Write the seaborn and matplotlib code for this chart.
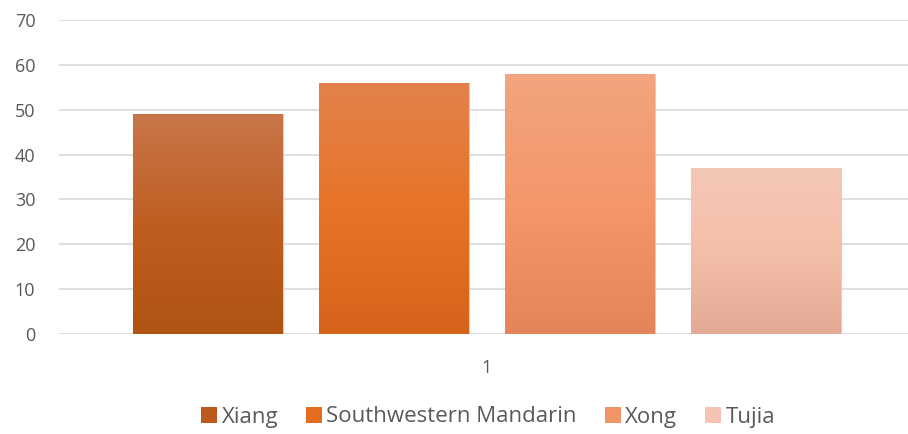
import numpy as np
import pandas as pd
import matplotlib
matplotlib.use("Agg")
import matplotlib.pyplot as plt
import seaborn as sns
from matplotlib.colors import LinearSegmentedColormap
from matplotlib.patches import Patch

# data
languages = ["Xiang", "Southwestern Mandarin", "Xong", "Tujia"]
values = [49, 56, 58, 37]
category = ["1", "1", "1", "1"]

# gradient colours per bar: top, middle, bottom
grad_colors = {
    "Xiang": ["#C87649", "#BF5E22", "#B05313"],
    "Southwestern Mandarin": ["#E3824D", "#E77426", "#D6631A"],
    "Xong": ["#F1A57F", "#F4976A", "#E5845A"],
    "Tujia": ["#F5C8B6", "#F4BFAA", "#E3AA95"],
}
legend_colors = ["#BA5A1B", "#E36C1E", "#F19569", "#F5C3B0"]

df = pd.DataFrame({"cat": category, "lang": languages, "val": values})

sns.set_style("white")
plt.rcParams['font.family'] = ['Open Sans', 'DejaVu Sans']

fig = plt.figure(figsize=(9.08, 4.34), dpi=100)
ax = fig.add_axes([59/908, 100/434, 856/908, 314/434])

sns.barplot(data=df, x="cat", y="val", hue="lang", hue_order=languages,
            width=0.869, gap=0.194, ax=ax, legend=False, palette=legend_colors)

ax.grid(axis="y", color="#D9D9D9", linewidth=1.2)
ax.set_axisbelow(True)
for s in ax.spines.values():
    s.set_visible(False)

# replace flat fill with vertical gradient
for patch, lang in zip(ax.patches, languages):
    x0, y0 = patch.get_x(), patch.get_y()
    w, h = patch.get_width(), patch.get_height()
    cmap = LinearSegmentedColormap.from_list(lang, grad_colors[lang][::-1])
    grad = np.linspace(0, 1, 256).reshape(-1, 1)
    patch.set_facecolor("none")
    patch.set_edgecolor("#C8C8C8")
    patch.set_linewidth(0.6)
    im = ax.imshow(grad, cmap=cmap, extent=[x0, x0 + w, y0, y0 + h],
                   origin="lower", aspect="auto", zorder=2)
    im.set_clip_path(patch)

ax.set_xlim(-0.5, 0.5)
ax.set_ylim(0, 70)
ax.set_yticks(range(0, 71, 10))
ax.set_xlabel("")
ax.set_ylabel("")
ax.tick_params(axis="both", length=0, labelsize=13, labelcolor="#595959")
ax.tick_params(axis="y", pad=17)
ax.tick_params(axis="x", pad=18)

handles = [Patch(facecolor=c, edgecolor="none") for c in legend_colors]
fig.legend(handles, languages, loc="center", bbox_to_anchor=(488/908, 17/434),
           ncol=4, frameon=False, fontsize=16, labelcolor="#595959",
           handlelength=0.72, handleheight=0.72, handletextpad=0.2, columnspacing=1.25)

fig.savefig("out.png", dpi=100)
